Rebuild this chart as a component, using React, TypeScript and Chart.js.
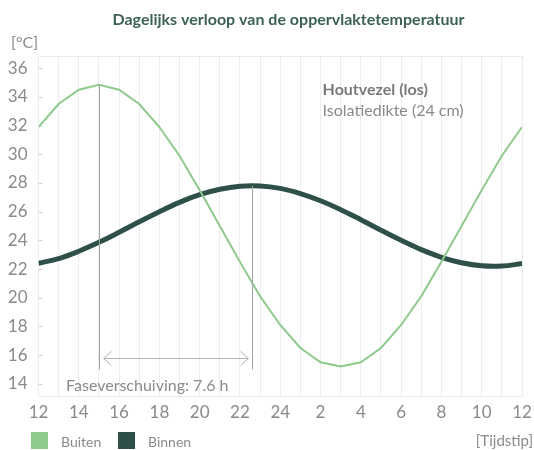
import React, { useEffect, useRef } from 'react';
import { Chart, registerables } from 'chart.js';

Chart.register(...registerables);

// hours since 12:00 (0..24)
const HOURS = [0, 1, 2, 3, 4, 5, 6, 7, 8, 9, 10, 11, 12, 13, 14, 15, 16, 17, 18, 19, 20, 21, 22, 23, 24];
const CLOCK_LABELS = ['12', '13', '14', '15', '16', '17', '18', '19', '20', '21', '22', '23', '24', '1', '2', '3', '4', '5', '6', '7', '8', '9', '10', '11', '12'];
const BUITEN = [31.9, 33.5, 34.5, 34.85, 34.5, 33.5, 31.9, 29.9, 27.5, 25.0, 22.5, 20.1, 18.1, 16.5, 15.5, 15.2, 15.5, 16.5, 18.1, 20.1, 22.5, 25.0, 27.5, 29.9, 31.9];
const BINNEN = [22.4, 22.73, 23.24, 23.86, 24.56, 25.29, 26.0, 26.65, 27.18, 27.56, 27.77, 27.79, 27.62, 27.26, 26.76, 26.14, 25.44, 24.71, 24.0, 23.35, 22.82, 22.44, 22.23, 22.21, 22.38];
const Y_TICKS = [14, 16, 18, 20, 22, 24, 26, 28, 30, 32, 34, 36];

const TITLE = 'Dagelijks verloop van de oppervlaktetemperatuur';
const Y_UNIT = '[°C]';
const X_UNIT = '[Tijdstip]';
const NOTE_BOLD = 'Houtvezel (los)';
const NOTE_REGULAR = 'Isolatiedikte (24 cm)';
const PHASE_LABEL = 'Faseverschuiving: 7.6 h';
const PEAK_OUT_HOUR = 3;
const PEAK_OUT_VALUE = 34.85;
const PEAK_IN_HOUR = 10.6;
const PEAK_IN_VALUE = 27.8;
const MARKER_BOTTOM = 15.0;
const ARROW_VALUE = 15.8;

const GREEN = '#8dca8b';
const DARK = '#2e5049';
const GREY_TEXT = '#8a8a8a';
const GRID = '#ececec';
const FONT = 'Lato';

export default function App() {
  const ref = useRef<HTMLCanvasElement | null>(null);

  useEffect(() => {
    if (!ref.current) return;

    const decor = {
      id: 'decor',
      beforeDraw(chart: any) {
        const { ctx, chartArea } = chart;
        ctx.save();
        ctx.fillStyle = '#ffffff';
        ctx.fillRect(0, 0, chart.width, chart.height);
        ctx.restore();
        ctx.save();
        ctx.strokeStyle = GRID;
        ctx.lineWidth = 1;
        ctx.beginPath();
        ctx.moveTo(chartArea.left, Math.round(chartArea.top) + 0.5);
        ctx.lineTo(chartArea.right, Math.round(chartArea.top) + 0.5);
        ctx.stroke();
        ctx.restore();
      },
      afterDatasetsDraw(chart: any) {
        const { ctx, chartArea } = chart;
        const xs = chart.scales.x;
        const ys = chart.scales.y;
        ctx.save();
        // inward y ticks
        ctx.strokeStyle = '#cfcfcf';
        ctx.lineWidth = 1;
        Y_TICKS.forEach((v) => {
          const py = Math.round(ys.getPixelForValue(v)) + 0.5;
          ctx.beginPath();
          ctx.moveTo(chartArea.left, py);
          ctx.lineTo(chartArea.left + 4, py);
          ctx.stroke();
        });
        // marker lines
        ctx.strokeStyle = '#a3a3a3';
        const x1 = Math.round(xs.getPixelForValue(PEAK_OUT_HOUR)) + 0.5;
        const x2 = Math.round(xs.getPixelForValue(PEAK_IN_HOUR)) + 0.5;
        const yb = ys.getPixelForValue(MARKER_BOTTOM);
        ctx.beginPath();
        ctx.moveTo(x1, ys.getPixelForValue(PEAK_OUT_VALUE));
        ctx.lineTo(x1, yb);
        ctx.moveTo(x2, ys.getPixelForValue(PEAK_IN_VALUE));
        ctx.lineTo(x2, yb);
        ctx.stroke();
        // arrow
        const ay = Math.round(ys.getPixelForValue(ARROW_VALUE)) + 0.5;
        const ax1 = x1 + 4;
        const ax2 = x2 - 4;
        ctx.strokeStyle = '#b5b5b5';
        ctx.beginPath();
        ctx.moveTo(ax1, ay);
        ctx.lineTo(ax2, ay);
        ctx.moveTo(ax1 + 8, ay - 7);
        ctx.lineTo(ax1, ay);
        ctx.lineTo(ax1 + 8, ay + 7);
        ctx.moveTo(ax2 - 8, ay - 7);
        ctx.lineTo(ax2, ay);
        ctx.lineTo(ax2 - 8, ay + 7);
        ctx.stroke();
        // phase label
        ctx.fillStyle = GREY_TEXT;
        ctx.font = `16px ${FONT}`;
        ctx.textBaseline = 'middle';
        ctx.textAlign = 'left';
        ctx.fillText(PHASE_LABEL, xs.getPixelForValue(1.37), ys.getPixelForValue(13.86));
        // notes
        ctx.fillStyle = '#7a7a7a';
        ctx.font = `bold 16px ${FONT}`;
        ctx.fillText(NOTE_BOLD, xs.getPixelForValue(14.1), ys.getPixelForValue(34.5));
        ctx.fillStyle = GREY_TEXT;
        ctx.font = `16px ${FONT}`;
        ctx.fillText(NOTE_REGULAR, xs.getPixelForValue(14.1), ys.getPixelForValue(33.05));
        ctx.restore();
      },
      afterDraw(chart: any) {
        const { ctx } = chart;
        ctx.save();
        ctx.textBaseline = 'middle';
        // title
        ctx.fillStyle = '#3d6158';
        ctx.font = `bold 16px ${FONT}`;
        ctx.textAlign = 'center';
        ctx.fillText(TITLE, 288.5, 20);
        // y unit
        ctx.fillStyle = GREY_TEXT;
        ctx.font = `16px ${FONT}`;
        ctx.textAlign = 'left';
        ctx.fillText(Y_UNIT, 11, 43);
        // x unit
        ctx.textAlign = 'right';
        ctx.font = `15px ${FONT}`;
        ctx.fillText(X_UNIT, 533, 441);
        // legend
        ctx.textAlign = 'left';
        ctx.font = `14px ${FONT}`;
        const items = chart.data.datasets.filter((d: any) => d.label);
        const pos = [31, 118];
        items.forEach((d: any, i: number) => {
          ctx.fillStyle = d.borderColor;
          ctx.fillRect(pos[i], 432, 17, 17);
          ctx.fillStyle = GREY_TEXT;
          ctx.fillText(d.label, pos[i] + 30, 442);
        });
        ctx.restore();
      },
    };

    const chart = new Chart(ref.current, {
      type: 'line',
      data: {
        datasets: [
          {
            label: 'Buiten',
            data: HOURS.map((h, i) => ({ x: h, y: BUITEN[i] })),
            borderColor: GREEN,
            backgroundColor: GREEN,
            borderWidth: 2,
            pointRadius: 0,
            tension: 0,
          },
          {
            label: 'Binnen',
            data: HOURS.map((h, i) => ({ x: h, y: BINNEN[i] })),
            borderColor: DARK,
            backgroundColor: DARK,
            borderWidth: 5,
            pointRadius: 0,
            tension: 0.4,
          },
        ],
      },
      plugins: [decor],
      options: {
        responsive: false,
        animation: false,
        layout: { padding: { top: 56, right: 12, bottom: 24, left: 0 } },
        plugins: { legend: { display: false }, tooltip: { enabled: false }, title: { display: false } },
        scales: {
          x: {
            type: 'linear',
            min: 0,
            max: 24,
            afterFit: (s: any) => { s.height = 30; s.paddingLeft = 0; s.paddingRight = 0; },
            grid: { color: GRID, drawTicks: false, lineWidth: 1 },
            border: { display: true, color: GRID },
            ticks: {
              stepSize: 1,
              autoSkip: false,
              maxRotation: 0,
              padding: 6,
              color: GREY_TEXT,
              font: { family: FONT, size: 17 },
              callback: (v: any) => (Number(v) % 2 === 0 ? CLOCK_LABELS[Number(v)] : ''),
            },
          },
          y: {
            type: 'linear',
            min: 13.15,
            max: 36.85,
            afterFit: (s: any) => { s.width = 38.5; s.paddingTop = 0; s.paddingBottom = 0; },
            afterBuildTicks: (s: any) => { s.ticks = Y_TICKS.map((v) => ({ value: v })); },
            grid: { display: false },
            border: { display: false },
            ticks: {
              padding: 3,
              color: GREY_TEXT,
              font: { family: FONT, size: 17 },
            },
          },
        },
      },
    });
    return () => chart.destroy();
  }, []);

  return (
    <div style={{ position: 'absolute', left: 0, top: 0, width: 534, height: 450, background: '#fff' }}>
      <canvas ref={ref} width={534} height={450} />
    </div>
  );
}
